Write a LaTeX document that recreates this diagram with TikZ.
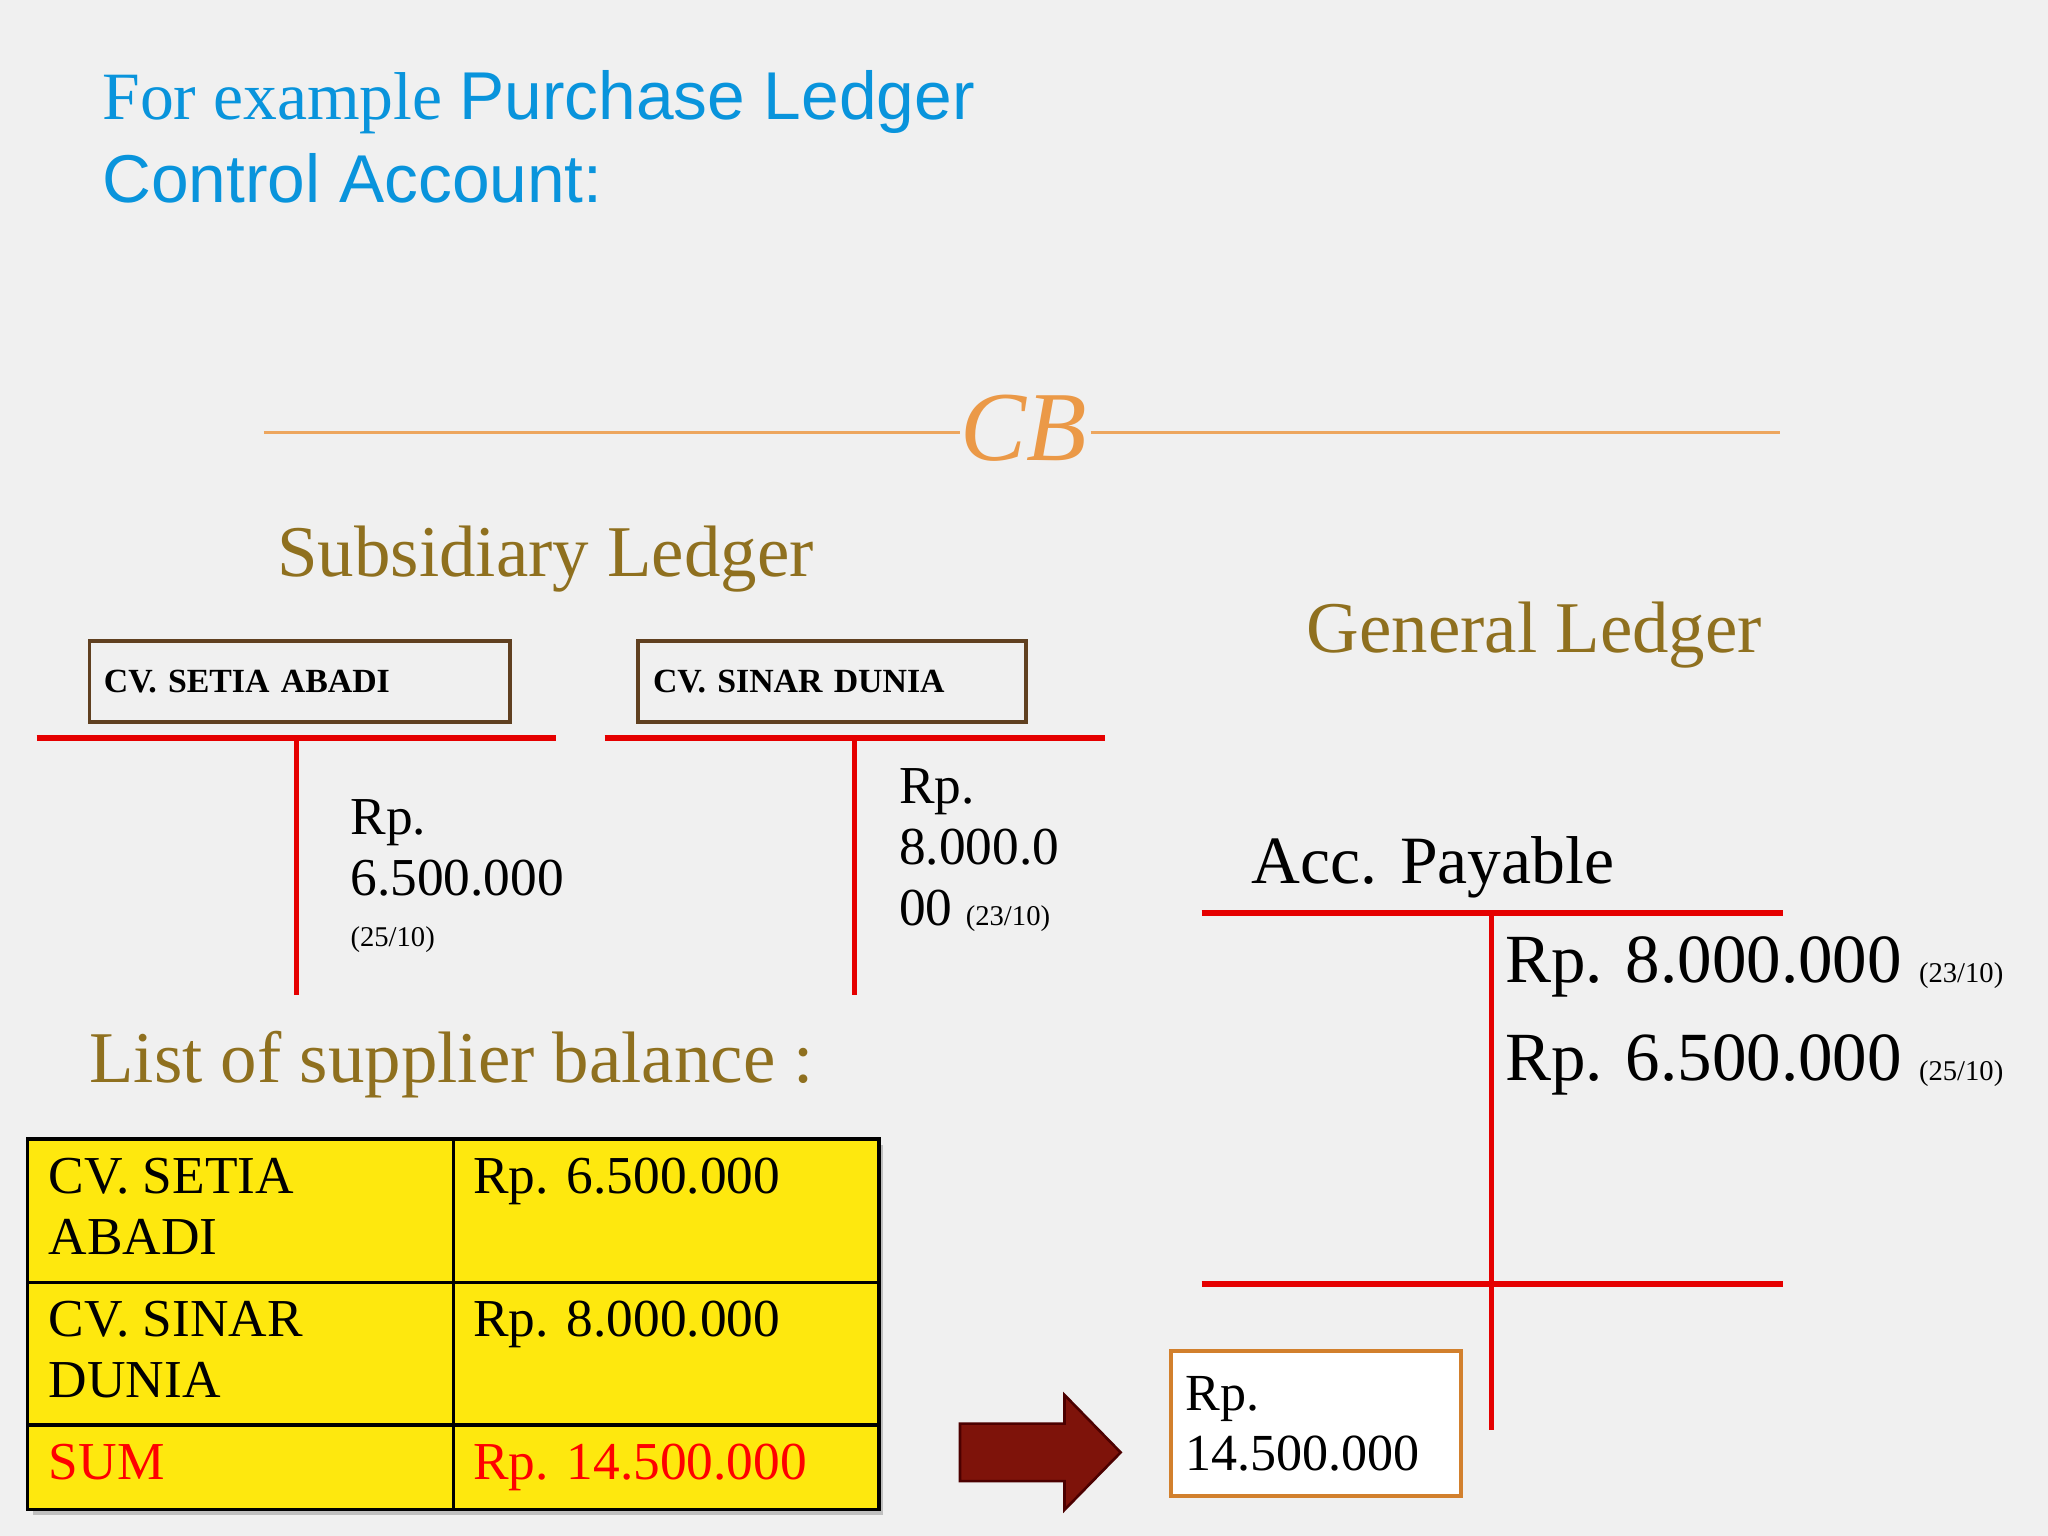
\documentclass[tikz,border=0pt]{standalone}
\usepackage{fontspec}
\setmainfont{Liberation Serif}
\newfontfamily\sans{Liberation Sans}
\newcommand\smtxt{\fontsize{11}{12}\selectfont}
\begin{document}
\begin{tikzpicture}[x=0.5bp,y=-0.5bp,
  redl/.style={draw=red!90!black,line width=2bp},
  lbl/.style={anchor=west,inner sep=0,font=\fontsize{20.5}{23.5}\selectfont,align=left},
  hd/.style={anchor=west,inner sep=0,text=brown!60!black!80!yellow,font=\fontsize{28}{30}\selectfont},
  cell/.style={draw=black,line width=1.2bp,fill=yellow!90!orange!95!white}]
\fill[gray!12] (0,0) rectangle (1568,1176);
\useasboundingbox (0,0) rectangle (1568,1176);
\node[anchor=west,inner sep=0,text=cyan!80!blue,font=\fontsize{26}{32}\selectfont,align=left] (t) at (78,105)
 {For example {\sans Purchase Ledger}\\{\sans Control Account:}};
% ornament
\draw[orange!60!brown!70,line width=1bp] (202,331) -- (735,331) (835,331) -- (1363,331);
\node[text=orange!60!brown!80,font=\fontsize{38}{40}\selectfont\itshape] (orn) at (784,328) {CB};
\node[hd] (sl) at (212,428) {Subsidiary Ledger};
\node[hd] (gl) at (1000,486) {General Ledger};
\node[hd] (ls) at (68,815) {List of supplier balance :};
% boxes
\node[draw=brown!50!black,line width=1.5bp,minimum width=161bp,minimum height=31bp,anchor=north west,font=\fontsize{13}{15}\selectfont\bfseries,text width=150bp] (b1) at (67,489) {CV. SETIA ABADI};
\node[draw=brown!50!black,line width=1.5bp,minimum width=148.5bp,minimum height=31bp,anchor=north west,font=\fontsize{13}{15}\selectfont\bfseries,text width=137bp] (b2) at (487,489) {CV. SINAR DUNIA};
% T accounts
\coordinate (a1) at (28,565); \coordinate (a2) at (426,565);
\coordinate (a3) at (227,565); \coordinate (a4) at (227,762);
\draw[redl] (a1) -- (a2) (a3) -- (a4);
\coordinate (c1) at (463,565); \coordinate (c2) at (846,565);
\coordinate (c3) at (654,565); \coordinate (c4) at (654,762);
\draw[redl] (c1) -- (c2) (c3) -- (c4);
\node[lbl,anchor=north west] (v1) at (268,612) {Rp.\\6.500.000\\[-4pt]{\smtxt (25/10)}};
\node[lbl,anchor=north west] (v2) at (688,588) {Rp.\\8.000.0\\00 {\smtxt (23/10)}};
% general ledger
\node[anchor=west,inner sep=0,font=\fontsize{26}{30}\selectfont] (ap) at (958,664) {Acc. Payable};
\coordinate (g1) at (920,699); \coordinate (g2) at (1365,699);
\coordinate (g3) at (1142,699); \coordinate (g4) at (1142,1095);
\coordinate (g5) at (920,983); \coordinate (g6) at (1365,983);
\draw[redl] (g1) -- (g2) (g3) -- (g4) (g5) -- (g6);
\node[anchor=west,inner sep=0,font=\fontsize{26.5}{30}\selectfont] (r1) at (1152,740) {Rp. 8.000.000 {\smtxt (23/10)}};
\node[anchor=west,inner sep=0,font=\fontsize{26.5}{30}\selectfont] (r2) at (1152,815) {Rp. 6.500.000 {\smtxt (25/10)}};
% table
\fill[black!25] (25,877) rectangle (676,1160);
\draw[cell] (21,872) rectangle (347,982); \draw[cell] (347,872) rectangle (673,982);
\draw[cell] (21,982) rectangle (347,1091); \draw[cell] (347,982) rectangle (673,1091);
\draw[cell] (21,1091) rectangle (347,1156); \draw[cell] (347,1091) rectangle (673,1156);
\node[lbl,anchor=north west] (t1) at (37,886) {CV. SETIA\\ABADI};
\node[lbl,anchor=north west] (t2) at (362,886) {Rp. 6.500.000};
\node[lbl,anchor=north west] (t3) at (37,996) {CV. SINAR\\DUNIA};
\node[lbl,anchor=north west] (t4) at (362,996) {Rp. 8.000.000};
\node[lbl,anchor=north west,text=red] (t5) at (37,1105) {SUM};
\node[lbl,anchor=north west,text=red] (t6) at (362,1105) {Rp. 14.500.000};
% arrow
\draw[fill=red!45!black!85!brown,draw=red!30!black,line width=1bp]
 (735,1090) -- (815,1090) -- (815,1068) -- (858,1112) -- (815,1156) -- (815,1134) -- (735,1134) -- cycle;
\node[draw=brown!70!orange,line width=1.5bp,fill=white,anchor=north west,minimum width=111bp,minimum height=55.5bp,text width=100bp,inner sep=4bp,font=\fontsize{20}{23}\selectfont,align=left] (tot) at (895,1033) {Rp.\\14.500.000};
\end{tikzpicture}
\end{document}
